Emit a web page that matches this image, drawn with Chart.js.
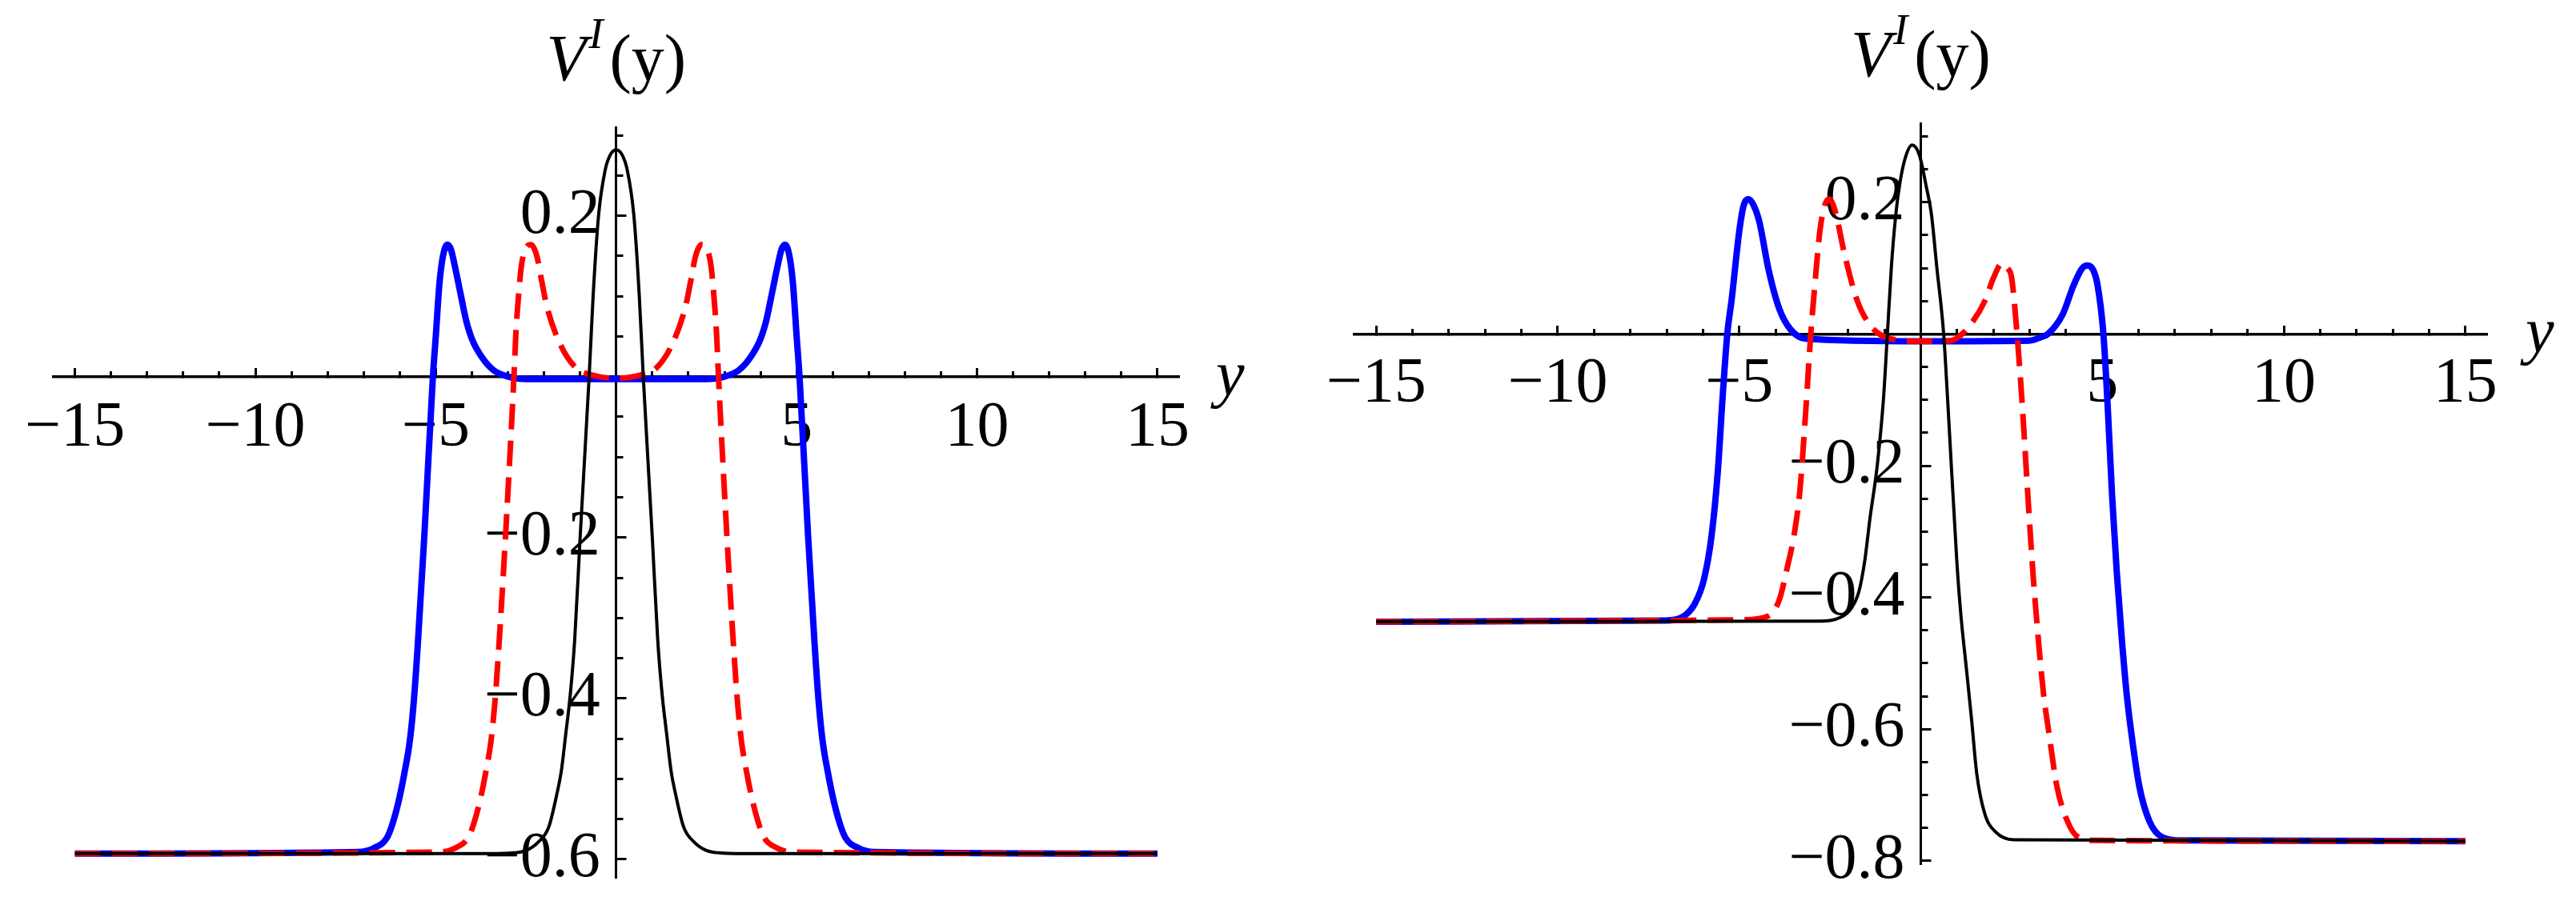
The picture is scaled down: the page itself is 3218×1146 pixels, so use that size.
<!DOCTYPE html>
<html>
<head>
<meta charset="utf-8">
<title>V^I(y)</title>
<script src="https://cdn.jsdelivr.net/npm/chart.js@4.4.1/dist/chart.umd.min.js"></script>
<style>
  html, body { margin: 0; padding: 0; background: #fff; }
  #wrap { position: relative; width: 3218px; height: 1146px; }
  canvas { position: absolute; top: 0; }
  #left { left: 0; }
  #right { left: 1609px; }
</style>
</head>
<body>
<div id="wrap">
  <canvas id="left" width="1609" height="1146"></canvas>
  <canvas id="right" width="1609" height="1146"></canvas>
</div>
<script>
// ---- left panel: three curves, same plateau on both sides ----
const leftBlackX = [-15, -3.5, -2.85, -2.5, -2.17, -1.87, -1.65, -1.52, -1.4, -1.27, -1.15, -1.0, -0.75, -0.64, -0.49, -0.31, -0.16, 0, 0.16, 0.31, 0.49, 0.64, 0.75, 1.0, 1.15, 1.27, 1.4, 1.52, 1.65, 1.87, 2.17, 2.5, 2.85, 3.5, 15];
const leftBlackY = [-0.593, -0.593, -0.592, -0.589, -0.579, -0.56, -0.52, -0.49, -0.445, -0.394, -0.327, -0.2, 0, 0.1, 0.2, 0.256, 0.276, 0.282, 0.276, 0.256, 0.2, 0.1, 0, -0.2, -0.327, -0.394, -0.445, -0.49, -0.52, -0.56, -0.579, -0.589, -0.592, -0.593, -0.593];

const leftRedX = [-15, -4.9, -4.46, -4.1, -3.95, -3.77, -3.62, -3.47, -3.36, -3.25, -3.07, -2.83, -2.78, -2.7, -2.63, -2.5, -2.36, -2.2, -2.07, -1.92, -1.56, -1.12, -0.68, 0, 0.68, 1.12, 1.56, 1.92, 2.07, 2.2, 2.36, 2.5, 2.63, 2.7, 2.78, 2.83, 3.07, 3.25, 3.36, 3.47, 3.62, 3.77, 3.95, 4.1, 4.46, 4.9, 15];
const leftRedY = [-0.593, -0.591, -0.586, -0.573, -0.556, -0.526, -0.493, -0.453, -0.404, -0.334, -0.2, 0.004, 0.054, 0.104, 0.137, 0.16, 0.164, 0.15, 0.12, 0.087, 0.041, 0.011, 0.002, -0.002, 0.002, 0.011, 0.041, 0.087, 0.12, 0.15, 0.164, 0.16, 0.137, 0.104, 0.054, 0.004, -0.2, -0.334, -0.404, -0.453, -0.493, -0.526, -0.556, -0.573, -0.586, -0.591, -0.593];

const leftBlueX = [-15, -7.15, -6.71, -6.35, -6.2, -6.02, -5.87, -5.72, -5.61, -5.5, -5.32, -5.08, -5.0, -4.9, -4.8, -4.68, -4.58, -4.47, -4.3, -4.16, -4.0, -3.72, -3.4, -3.0, -2.5, 0, 2.5, 3.0, 3.4, 3.72, 4.0, 4.16, 4.3, 4.47, 4.58, 4.68, 4.8, 4.9, 5.0, 5.08, 5.32, 5.5, 5.61, 5.72, 5.87, 6.02, 6.2, 6.35, 6.71, 7.15, 15];
const leftBlueY = [-0.593, -0.591, -0.586, -0.573, -0.556, -0.526, -0.493, -0.453, -0.404, -0.334, -0.2, 0, 0.05, 0.115, 0.15, 0.164, 0.158, 0.137, 0.1, 0.07, 0.047, 0.024, 0.008, 0, -0.003, -0.003, -0.003, 0, 0.008, 0.024, 0.047, 0.07, 0.1, 0.137, 0.158, 0.164, 0.15, 0.115, 0.05, 0, -0.2, -0.334, -0.404, -0.453, -0.493, -0.526, -0.556, -0.573, -0.586, -0.591, -0.593];

// ---- right panel: asymmetric, plateaus at -0.437 and -0.77 ----
const rightBlackX = [-15, -2.8, -2.2, -1.91, -1.7, -1.54, -1.4, -1.2, -1.03, -0.92, -0.81, -0.7, -0.59, -0.44, -0.24, -0.04, 0.15, 0.29, 0.44, 0.63, 0.74, 0.99, 1.1, 1.25, 1.4, 1.54, 1.76, 2.06, 2.57, 15];
const rightBlackY = [-0.437, -0.436, -0.43, -0.416, -0.39, -0.343, -0.28, -0.2, -0.1, 0, 0.102, 0.175, 0.224, 0.265, 0.287, 0.272, 0.224, 0.183, 0.102, 0, -0.1, -0.343, -0.424, -0.505, -0.586, -0.667, -0.728, -0.756, -0.768, -0.77];

const rightRedX = [-15, -4.9, -4.19, -3.9, -3.68, -3.49, -3.33, -3.18, -3.03, -2.93, -2.78, -2.65, -2.52, -2.35, -2.12, -1.76, -1.36, -0.85, 0, 0.6, 0.97, 1.38, 1.78, 2.0, 2.24, 2.38, 2.5, 2.65, 2.8, 2.95, 3.09, 3.24, 3.38, 3.53, 3.75, 4.04, 4.34, 4.9, 15];
const rightRedY = [-0.437, -0.434, -0.428, -0.404, -0.355, -0.305, -0.238, -0.126, 0, 0.067, 0.156, 0.195, 0.205, 0.185, 0.126, 0.052, 0.011, -0.007, -0.011, -0.011, -0.007, 0.015, 0.052, 0.085, 0.107, 0.1, 0.086, 0.001, -0.112, -0.246, -0.363, -0.465, -0.546, -0.606, -0.687, -0.74, -0.764, -0.769, -0.77];

const rightBlueX = [-15, -7.03, -6.52, -6.22, -5.97, -5.76, -5.59, -5.46, -5.33, -5.21, -5.0, -4.88, -4.75, -4.6, -4.45, -4.19, -3.89, -3.59, -3.18, 0, 3.0, 3.3, 3.5, 3.91, 4.21, 4.45, 4.59, 4.75, 4.87, 5.03, 5.15, 5.27, 5.4, 5.54, 5.67, 5.8, 6.02, 6.3, 6.65, 7.2, 15];
const rightBlueY = [-0.437, -0.435, -0.428, -0.409, -0.372, -0.305, -0.208, -0.097, 0, 0.052, 0.156, 0.195, 0.205, 0.195, 0.171, 0.097, 0.037, 0.007, -0.007, -0.011, -0.01, -0.005, 0, 0.03, 0.074, 0.1, 0.104, 0.097, 0.074, 0, -0.112, -0.246, -0.363, -0.465, -0.546, -0.606, -0.687, -0.74, -0.764, -0.769, -0.77];

// ---- ticks ----
const xTicks = [-15, -14, -13, -12, -11, -10, -9, -8, -7, -6, -5, -4, -3, -2, -1, 0, 1, 2, 3, 4, 5, 6, 7, 8, 9, 10, 11, 12, 13, 14, 15];
const xLabelValues = [-15, -10, -5, 5, 10, 15];
const xLabelTexts = ['\u221215', '\u221210', '\u22125', '5', '10', '15'];

const leftYTicks = [-0.6, -0.55, -0.5, -0.45, -0.4, -0.35, -0.3, -0.25, -0.2, -0.15, -0.1, -0.05, 0, 0.05, 0.1, 0.15, 0.2, 0.25, 0.3];
const rightYTicks = [-0.8, -0.75, -0.7, -0.65, -0.6, -0.55, -0.5, -0.45, -0.4, -0.35, -0.3, -0.25, -0.2, -0.15, -0.1, -0.05, 0, 0.05, 0.1, 0.15, 0.2, 0.25, 0.3];
const yLabelValues = [-0.8, -0.6, -0.4, -0.2, 0.2];
// the trailing four-per-em space keeps the labels clear of the axis line
const yLabelTexts = ['\u22120.8\u2005', '\u22120.6\u2005', '\u22120.4\u2005', '\u22120.2\u2005', '0.2\u2005'];

const serif = '"Liberation Serif", "Times New Roman", serif';
const tickFont = { family: serif, size: 80 };

function pts(xs, ys) {
  return xs.map((x, i) => ({ x: x, y: ys[i] }));
}

function labelFor(values, texts) {
  return function (v) {
    const i = values.findIndex(w => Math.abs(w - v) < 1e-9);
    return i < 0 ? '' : texts[i];
  };
}

function isMajor(values) {
  return function (ctx) {
    const v = ctx.tick ? ctx.tick.value : null;
    return values.some(w => Math.abs(w - v) < 1e-9);
  };
}

// title V^I(y) above the y axis and italic "y" at the end of the x axis
const axisText = {
  id: 'axisText',
  afterDraw(chart, args, opts) {
    const c = chart.ctx;
    const x0 = chart.scales.x.getPixelForValue(0);
    const y0 = chart.scales.y.getPixelForValue(0);
    const area = chart.chartArea;
    c.save();
    c.fillStyle = '#000';
    c.textBaseline = 'alphabetic';
    c.textAlign = 'left';

    const fBig = 'italic 82px ' + serif;
    const fSup = 'italic 54px ' + serif;
    const fUp = '82px ' + serif;
    c.font = fBig; const wV = c.measureText('V').width;
    c.font = fSup; const wI = c.measureText('I').width;
    c.font = fUp; const wP = c.measureText('(y)').width;
    const total = wV + 3 + wI + 8 + wP;
    let tx = x0 - total / 2;
    const base = area.top - opts.titleGap;
    c.font = fBig; c.fillText('V', tx, base);
    tx += wV + 3;
    c.font = fSup; c.fillText('I', tx, base - 40);
    tx += wI + 8;
    c.font = fUp; c.fillText('(y)', tx, base);

    c.font = 'italic 80px ' + serif;
    c.fillText('y', area.right + opts.yGap, y0 + 23);
    c.restore();
  }
};

function makeChart(id, d) {
  const ctx = document.getElementById(id).getContext('2d');
  return new Chart(ctx, {
    type: 'line',
    data: {
      datasets: [
        {
          label: 'black',
          data: pts(d.bx, d.by),
          borderColor: '#000000',
          borderWidth: 4,
          pointRadius: 0,
          cubicInterpolationMode: 'monotone',
          fill: false
        },
        {
          label: 'red',
          data: pts(d.rx, d.ry),
          borderColor: '#ff0000',
          borderWidth: 7,
          borderDash: [32, 14],
          pointRadius: 0,
          cubicInterpolationMode: 'monotone',
          fill: false
        },
        {
          label: 'blue',
          data: pts(d.lx, d.ly),
          borderColor: '#0000ff',
          borderWidth: 8,
          pointRadius: 0,
          cubicInterpolationMode: 'monotone',
          fill: false
        }
      ]
    },
    options: {
      responsive: false,
      animation: false,
      events: [],
      layout: { padding: d.pad },
      plugins: {
        legend: { display: false },
        tooltip: { enabled: false },
        axisText: { titleGap: 59, yGap: d.yGap }
      },
      scales: {
        x: {
          type: 'linear',
          min: -15.6,
          max: 15.6,
          position: { y: 0 },
          afterBuildTicks: function (scale) {
            scale.ticks = xTicks.map(v => ({ value: v }));
          },
          ticks: {
            autoSkip: false,
            maxRotation: 0,
            minRotation: 0,
            padding: d.xPad,
            color: '#000',
            font: tickFont,
            callback: labelFor(xLabelValues, xLabelTexts)
          },
          grid: {
            drawOnChartArea: false,
            drawTicks: true,
            tickLength: -12.5,
            tickWidth: 3,
            tickColor: '#000',
            tickBorderDash: ctx => isMajor(xLabelValues)(ctx) ? [] : [8.5, 100]
          },
          border: { display: true, color: '#000', width: 3.5 }
        },
        y: {
          type: 'linear',
          min: d.ymin,
          max: d.ymax,
          position: { x: 0 },
          afterBuildTicks: function (scale) {
            scale.ticks = d.yTicks.map(v => ({ value: v }));
          },
          ticks: {
            autoSkip: false,
            padding: 0,
            color: '#000',
            font: tickFont,
            callback: labelFor(yLabelValues, yLabelTexts)
          },
          grid: {
            drawOnChartArea: false,
            drawTicks: true,
            tickLength: -14.5,
            tickWidth: 3,
            tickColor: '#000',
            tickBorderDash: ctx => isMajor(yLabelValues)(ctx) ? [] : [10.5, 100]
          },
          border: { display: true, color: '#000', width: 3 }
        }
      }
    },
    plugins: [axisText]
  });
}

makeChart('left', {
  bx: leftBlackX, by: leftBlackY,
  rx: leftRedX, ry: leftRedY,
  lx: leftBlueX, ly: leftBlueY,
  ymin: -0.623, ymax: 0.31,
  yTicks: leftYTicks,
  pad: { left: 55, right: 136, top: 159, bottom: 49 },
  xPad: 30,
  yGap: 46
});

makeChart('right', {
  bx: rightBlackX, by: rightBlackY,
  rx: rightRedX, ry: rightRedY,
  lx: rightBlueX, ly: rightBlueY,
  ymin: -0.805, ymax: 0.32,
  yTicks: rightYTicks,
  pad: { left: 83, right: 111, top: 154, bottom: 66 },
  xPad: 28,
  yGap: 48
});
</script>
</body>
</html>
